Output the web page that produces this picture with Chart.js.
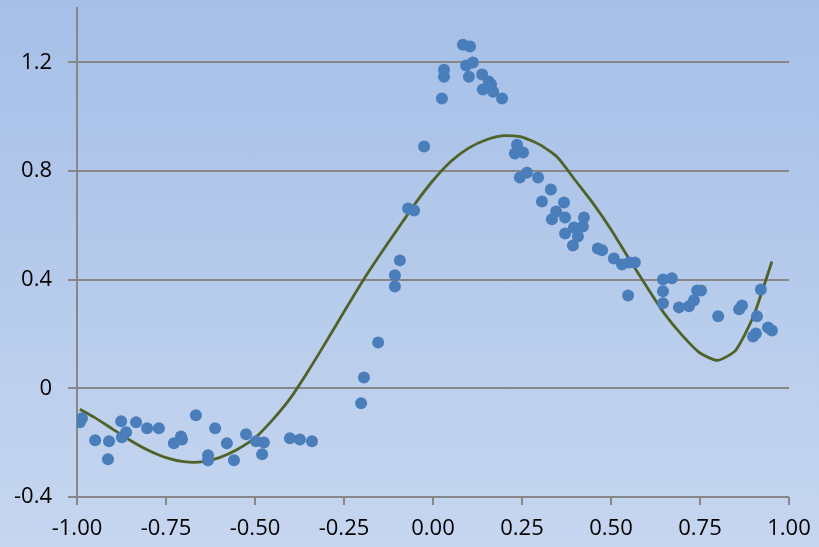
<!DOCTYPE html>
<html>
<head>
<meta charset="utf-8">
<script src="https://cdn.jsdelivr.net/npm/chart.js@4"></script>
<style>
    html, body { margin: 0; padding: 0; }
    #wrap { width: 819px; height: 547px; background: linear-gradient(to bottom, #a5bfe7, #c6d6ef); }
</style>
</head>
<body>
<div id="wrap"><canvas id="fitChart" width="819" height="547"></canvas></div>
<script>
// Observed samples
const sampleX = [-0.992, -0.986, -0.949, -0.910, -0.913, -0.876, -0.862, -0.874, -0.834, -0.803,
    -0.770, -0.728, -0.708, -0.705, -0.666, -0.612, -0.579, -0.525, -0.497, -0.475,
    -0.632, -0.632, -0.559, -0.480, -0.402, -0.374, -0.340, -0.202, -0.194, -0.154,
    -0.107, -0.107, -0.093, -0.070, -0.053, -0.025, 0.025, 0.031, 0.031, 0.084,
    0.104, 0.093, 0.112, 0.101, 0.138, 0.157, 0.140, 0.169, 0.194, 0.163,
    0.236, 0.230, 0.253, 0.264, 0.244, 0.295, 0.331, 0.306, 0.368, 0.346,
    0.334, 0.371, 0.424, 0.421, 0.396, 0.371, 0.407, 0.393, 0.463, 0.475,
    0.508, 0.531, 0.551, 0.567, 0.548, 0.646, 0.671, 0.646, 0.646, 0.691,
    0.719, 0.733, 0.742, 0.753, 0.801, 0.860, 0.868, 0.921, 0.910, 0.907,
    0.899, 0.941, 0.952];
const sampleY = [-0.125, -0.110, -0.191, -0.195, -0.261, -0.121, -0.162, -0.180, -0.125, -0.147,
    -0.147, -0.202, -0.177, -0.188, -0.099, -0.147, -0.202, -0.169, -0.195, -0.199,
    -0.246, -0.265, -0.265, -0.243, -0.184, -0.188, -0.195, -0.055, 0.040, 0.169,
    0.375, 0.416, 0.471, 0.662, 0.655, 0.890, 1.067, 1.147, 1.173, 1.265,
    1.258, 1.188, 1.199, 1.147, 1.155, 1.129, 1.100, 1.092, 1.067, 1.118,
    0.897, 0.864, 0.868, 0.794, 0.776, 0.776, 0.732, 0.688, 0.684, 0.651,
    0.622, 0.629, 0.629, 0.596, 0.592, 0.570, 0.559, 0.526, 0.515, 0.508,
    0.478, 0.456, 0.463, 0.463, 0.342, 0.401, 0.405, 0.357, 0.313, 0.298,
    0.302, 0.324, 0.360, 0.360, 0.265, 0.291, 0.305, 0.364, 0.265, 0.202,
    0.191, 0.224, 0.213];

// Fitted curve
const fitX = [-0.992, -0.95, -0.90, -0.85, -0.80, -0.75, -0.70, -0.65, -0.60, -0.55,
    -0.50, -0.45, -0.40, -0.35, -0.30, -0.25, -0.20, -0.15, -0.10, -0.05,
    0.00, 0.05, 0.10, 0.15, 0.20, 0.25, 0.30, 0.35, 0.40, 0.45,
    0.50, 0.55, 0.60, 0.65, 0.70, 0.75, 0.80, 0.85, 0.90, 0.952];
const fitY = [-0.077, -0.108, -0.150, -0.192, -0.228, -0.255, -0.270, -0.271, -0.255, -0.225,
    -0.182, -0.115, -0.035, 0.065, 0.172, 0.282, 0.390, 0.490, 0.585, 0.680,
    0.765, 0.835, 0.884, 0.915, 0.930, 0.925, 0.897, 0.850, 0.765, 0.680,
    0.585, 0.478, 0.375, 0.275, 0.195, 0.130, 0.103, 0.140, 0.265, 0.467];

const yTicks = [-0.4, 0, 0.4, 0.8, 1.2];
const xTicks = [-1, -0.75, -0.5, -0.25, 0, 0.25, 0.5, 0.75, 1];

const toPoints = (xs, ys) => xs.map((x, i) => ({x: x, y: ys[i]}));

const ctx = document.getElementById('fitChart').getContext('2d');
const labelFont = {family: 'Open Sans', size: 22};

new Chart(ctx, {
    type: 'scatter',
    data: {
        datasets: [{
            label: 'Samples',
            data: toPoints(sampleX, sampleY),
            backgroundColor: '#4a7ebb',
            borderWidth: 0,
            pointRadius: 6,
            order: 0
        }, {
            label: 'Fit',
            data: toPoints(fitX, fitY),
            showLine: true,
            borderColor: '#4f6228',
            borderWidth: 2.8,
            pointRadius: 0,
            tension: 0.2,
            order: 1
        }]
    },
    options: {
        responsive: false,
        animation: false,
        layout: {
            padding: {left: 0, right: 30, top: 8, bottom: 0}
        },
        plugins: {
            legend: {display: false},
            tooltip: {enabled: false}
        },
        scales: {
            x: {
                type: 'linear',
                min: -1,
                max: 1,
                afterBuildTicks: scale => { scale.ticks = xTicks.map(v => ({value: v})); },
                afterFit: scale => {
                    scale.height = 50;
                    scale.paddingLeft = 0;
                    scale.paddingRight = 0;
                },
                grid: {
                    drawOnChartArea: false,
                    color: '#878787',
                    lineWidth: 2,
                    tickLength: 8
                },
                border: {display: false},
                ticks: {
                    color: '#000000',
                    font: labelFont,
                    padding: 11,
                    maxRotation: 0,
                    callback: v => v.toFixed(2)
                }
            },
            y: {
                type: 'linear',
                min: -0.4,
                max: 1.4,
                afterBuildTicks: scale => { scale.ticks = yTicks.map(v => ({value: v})); },
                afterFit: scale => {
                    scale.width = 77;
                    scale.paddingTop = 0;
                    scale.paddingBottom = 0;
                },
                grid: {
                    color: '#878787',
                    lineWidth: 2,
                    tickLength: 9
                },
                border: {color: '#878787', width: 2},
                ticks: {
                    color: '#000000',
                    font: labelFont,
                    padding: 16,
                    callback: v => v === 0 ? '0' : v.toFixed(1)
                }
            }
        }
    }
});
</script>
</body>
</html>
